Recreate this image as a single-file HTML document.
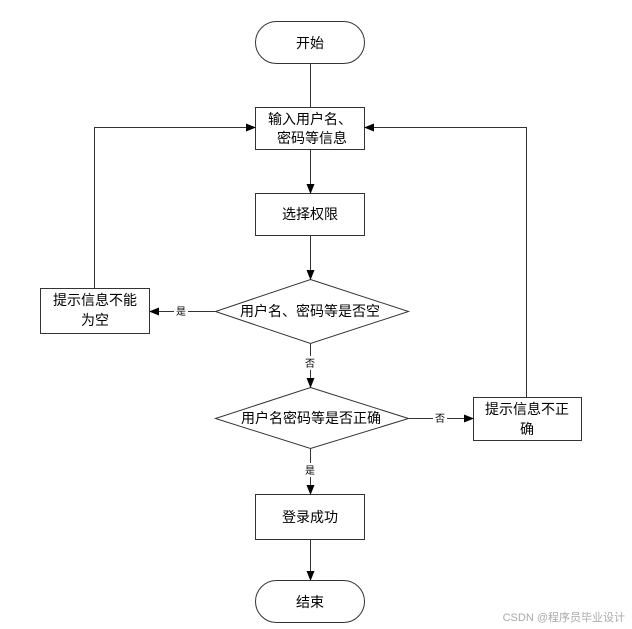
<!DOCTYPE html>
<html><head><meta charset="utf-8"><style>body{margin:0;background:#fff}svg{display:block}text{font-family:"Liberation Sans","Noto Sans CJK SC",sans-serif;fill:#000}</style></head><body>
<svg width="632" height="629" viewBox="0 0 632 629">
<defs><marker id="a" markerWidth="10" markerHeight="8" refX="9" refY="4" orient="auto" markerUnits="userSpaceOnUse"><path d="M0,0L10,4L0,8z" fill="#000"/></marker></defs>
<g stroke="#333" stroke-width="1" fill="none">
<rect x="255.5" y="21.5" width="109" height="42" rx="21" fill="#fff"/>
<rect x="255.5" y="107.5" width="109" height="42" fill="#fff"/>
<rect x="255.5" y="193.5" width="109" height="42" fill="#fff"/>
<polygon points="310.5,279.5 408.5,311.5 310.5,343.5 215.5,311.5" fill="#fff"/>
<rect x="40.5" y="288.5" width="109" height="45" fill="#fff"/>
<polygon points="310.5,387.5 408.5,418.5 310.5,448.5 215.5,418.5" fill="#fff"/>
<rect x="473.5" y="397.5" width="108" height="43" fill="#fff"/>
<rect x="255.5" y="494.5" width="109" height="45" fill="#fff"/>
<rect x="255.5" y="580.5" width="109" height="42" rx="21" fill="#fff"/>
<line x1="310.5" y1="64" x2="310.5" y2="107"/>
<line x1="310.5" y1="150" x2="310.5" y2="193" marker-end="url(#a)"/>
<line x1="310.5" y1="236" x2="310.5" y2="279" marker-end="url(#a)"/>
<line x1="215" y1="311.5" x2="150" y2="311.5" marker-end="url(#a)"/>
<polyline points="94.5,288 94.5,127.5 255,127.5" marker-end="url(#a)"/>
<line x1="310.5" y1="344" x2="310.5" y2="387" marker-end="url(#a)"/>
<line x1="409" y1="418.5" x2="473" y2="418.5" marker-end="url(#a)"/>
<polyline points="526.5,397 526.5,127.5 365,127.5" marker-end="url(#a)"/>
<line x1="310.5" y1="449" x2="310.5" y2="494" marker-end="url(#a)"/>
<line x1="310.5" y1="540" x2="310.5" y2="580" marker-end="url(#a)"/>
</g>
<rect x="174" y="304" width="14" height="14" fill="#fff"/>
<rect x="303" y="356" width="14" height="14" fill="#fff"/>
<rect x="433" y="411" width="14" height="14" fill="#fff"/>
<rect x="303" y="463" width="14" height="14" fill="#fff"/>
<g font-size="14" text-anchor="middle">
<text x="310" y="48">开始</text>
<text x="310" y="124">输入用户名、</text>
<text x="312" y="143">密码等信息</text>
<text x="310" y="219">选择权限</text>
<text x="310" y="316">用户名、密码等是否空</text>
<text x="95" y="305">提示信息不能</text>
<text x="95" y="325">为空</text>
<text x="311" y="423">用户名密码等是否正确</text>
<text x="527" y="414">提示信息不正</text>
<text x="527" y="434">确</text>
<text x="310" y="522">登录成功</text>
<text x="310" y="607">结束</text>
</g>
<g font-size="10" text-anchor="middle">
<text x="181" y="315">是</text>
<text x="310" y="367">否</text>
<text x="440" y="422">否</text>
<text x="310" y="474">是</text>
</g>
<text x="625" y="621" font-size="11" text-anchor="end" style="fill:#aaa">CSDN @程序员毕业设计</text>
</svg>
</body></html>
